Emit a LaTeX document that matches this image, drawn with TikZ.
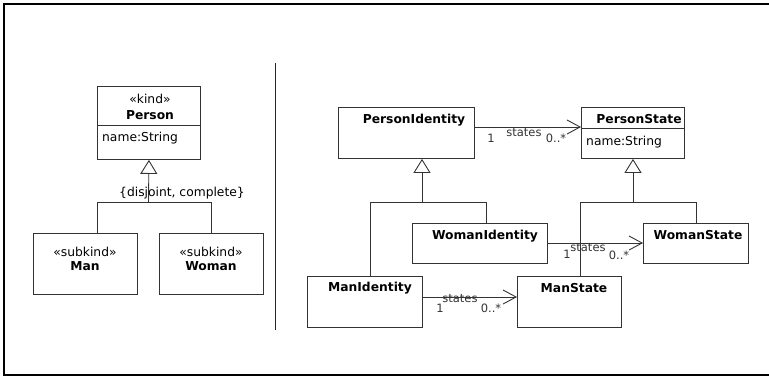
\documentclass[tikz,border=0pt]{standalone}
\usepackage{fontspec}
\setmainfont{DejaVu Sans}
\usetikzlibrary{arrows.meta,positioning}

\begin{document}
\begin{tikzpicture}[
  x=1pt,
  y=-1pt,
  font=\fontsize{12.3}{14}\selectfont,
  every node/.style={inner sep=0pt},
  cls/.style={
    rectangle,
    draw=black!80,
    fill=white,
    line width=0.9pt,
    anchor=north west
  },
  cname/.style={font=\fontsize{12.3}{14}\selectfont\bfseries},
  attr/.style={anchor=west},
  role/.style={font=\fontsize{11.5}{13}\selectfont,text=black!80},
  link/.style={draw=black!80,line width=0.9pt},
  gen/.style={link,-{Triangle[open,length=14pt,width=17pt]}},
  assoc/.style={link,-{Straight Barb[length=13pt,width=14pt]}}
]
\useasboundingbox (0,0) rectangle (769,378);

% Frame and panel separator.
\draw[line width=2pt] (769,4) -- (4,4) -- (4,375) -- (769,375);
\draw[line width=1pt,black!85] (275,63) -- (275,330);

% Left panel: kind and subkinds.
\node[cls,minimum width=103,minimum height=73] (person) at (97,86) {};
\draw[link] (97,125) -- (200,125);
\node (personkind) at (150,99) {«kind»};
\node[cname] (personname) at (150,115) {Person};
\node[attr] (personattr) at (102,138) {name:String};

\node[cls,minimum width=104,minimum height=61] (man) at (33,233) {};
\node (mankind) at (85,252) {«subkind»};
\node[cname] (manname) at (85,266) {Man};
\node[cls,minimum width=104,minimum height=61] (woman) at (159,233) {};
\node (womankind) at (211,252) {«subkind»};
\node[cname] (womanname) at (211,266) {Woman};

\coordinate (jn1) at (148.5,202);
\coordinate (mantop) at (97,233);
\draw[gen] (jn1) -- (person.south);
\draw[link] (mantop) |- (woman.north |- jn1) -- (woman.north);
\node (gset) at (182,193) {\{disjoint, complete\}};

% Right panel: identities and states.
\node[cls,minimum width=136,minimum height=51] (pid) at (338,107) {};
\node[cname] (pidname) at (414,120) {PersonIdentity};
\node[cls,minimum width=103,minimum height=51] (pst) at (581,107) {};
\draw[link] (581,128) -- (684,128);
\node[cname] (pstname) at (639,119) {PersonState};
\node[attr] (pstattr) at (586,142) {name:String};

\node[cls,minimum width=135,minimum height=40] (wid) at (412,223) {};
\node[cname] (widname) at (485,236) {WomanIdentity};
\node[cls,minimum width=115,minimum height=51] (mid) at (307,276) {};
\node[cname] (midname) at (370,288) {ManIdentity};
\node[cls,minimum width=104,minimum height=51] (mst) at (517,276) {};
\node[cname] (mstname) at (574,288) {ManState};
\node[cls,minimum width=105,minimum height=40] (wst) at (643,223) {};
\node[cname] (wstname) at (698,235) {WomanState};

% Generalization trees.
\coordinate (jn2) at (422,202);
\coordinate (midtop) at (370,276);
\coordinate (widtop) at (486,223);
\draw[gen] (jn2) -- (jn2 |- pid.south);
\draw[link] (midtop) |- (widtop |- jn2) -- (widtop);

\coordinate (jn3) at (633,202);
\coordinate (msttop) at (580,276);
\coordinate (wsttop) at (696,223);
\draw[gen] (jn3) -- (jn3 |- pst.south);
\draw[link] (msttop) |- (wsttop |- jn3) -- (wsttop);

% Associations.
\coordinate (pidout) at (474,127);
\draw[assoc] (pidout) -- (pidout -| pst.west);
\node[role] (pidone) at (491,138) {1};
\node[role] (pidrole) at (524,133) {states};
\node[role] (pidmult) at (556,138) {0..*};

\coordinate (widout) at (547,243);
\draw[assoc] (widout) -- (widout -| wst.west);
\node[role] (widone) at (567,254) {1};
\node[role] (widrole) at (588,248) {states};
\node[role] (widmult) at (619,255) {0..*};

\coordinate (midout) at (422,297);
\draw[assoc] (midout) -- (midout -| mst.west);
\node[role] (midone) at (440,308) {1};
\node[role] (midrole) at (460,299) {states};
\node[role] (midmult) at (491,308) {0..*};

\end{tikzpicture}
\end{document}
